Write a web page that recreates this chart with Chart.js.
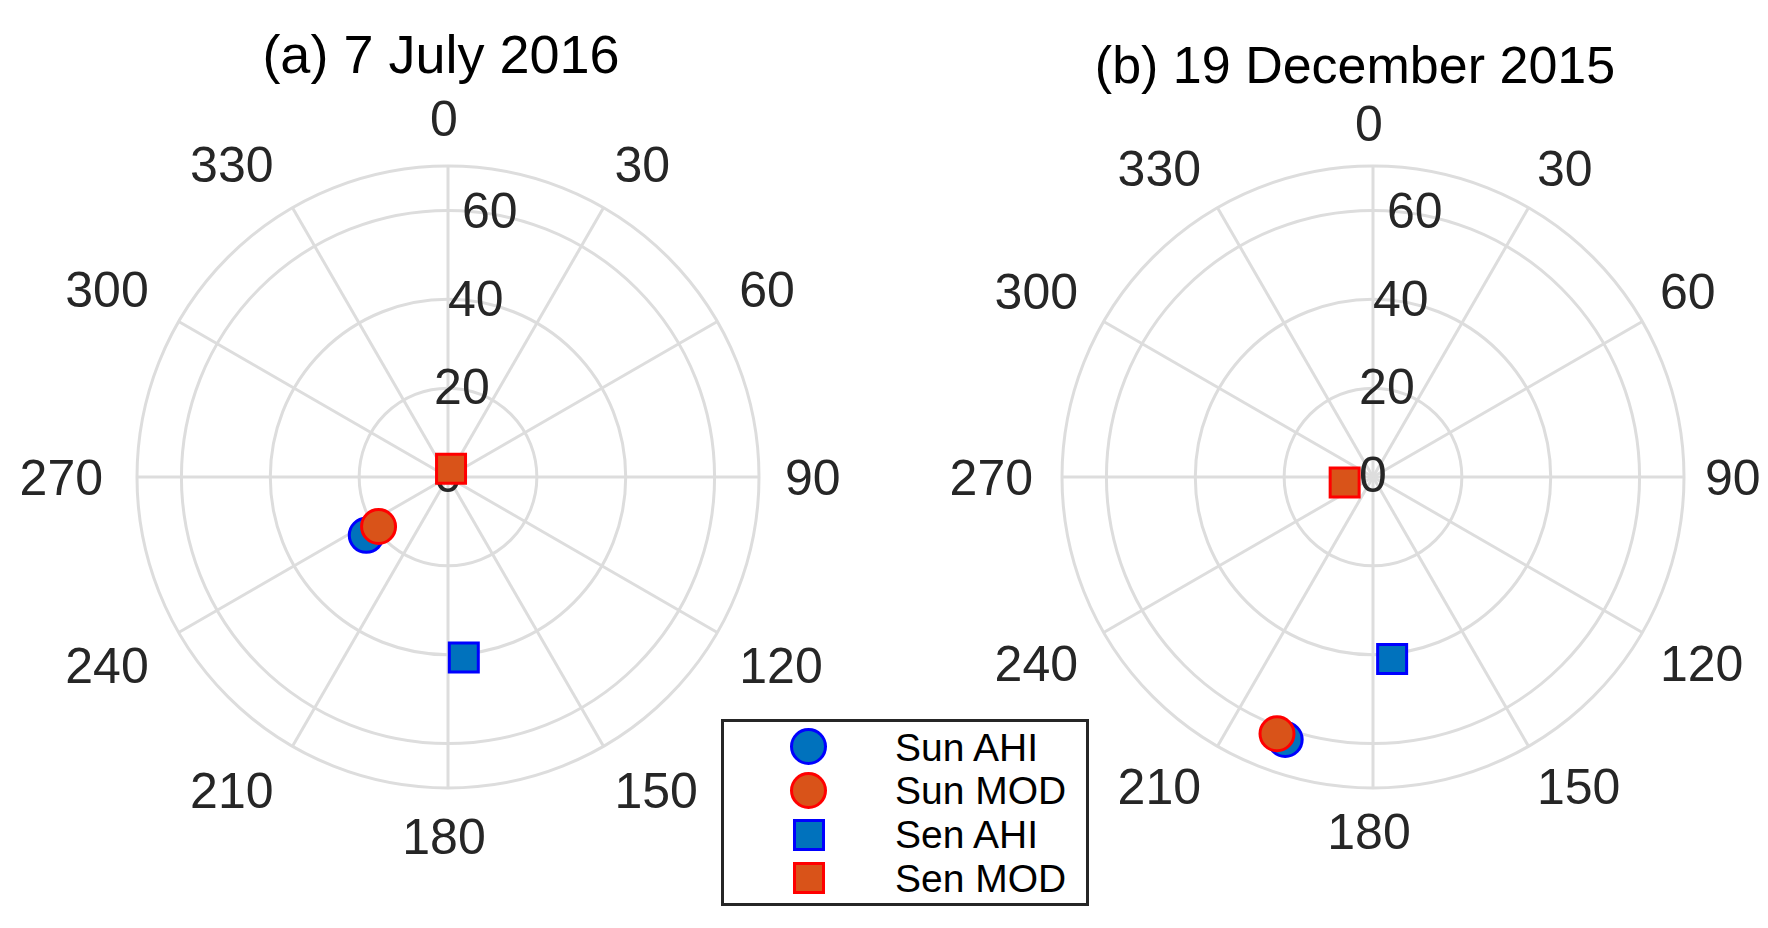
<!DOCTYPE html>
<html>
<head>
<meta charset="utf-8">
<title>Sun and sensor angles</title>
<script src="https://cdn.jsdelivr.net/npm/chart.js@4.4.1/dist/chart.umd.min.js"></script>
<style>
    html, body { margin: 0; padding: 0; background: #fff; overflow: hidden; }
    body { position: relative; width: 1768px; height: 928px; font-family: "Liberation Sans", Arial, sans-serif; }
    canvas { position: absolute; top: 0; }
    .title { position: absolute; width: 700px; text-align: center; line-height: 1; color: #000; white-space: nowrap; }
    #legend { position: absolute; left: 721px; top: 719px; width: 368px; height: 187px; box-sizing: border-box; border: 3px solid #262626; background: #fff; }
    #legend .mark { position: absolute; box-sizing: border-box; border: 3px solid; }
    #legend .txt { position: absolute; font-size: 39px; line-height: 1; color: #000; white-space: nowrap; }
</style>
</head>
<body>
<div class="title" id="titleA" style="left: 91px; top: 27px; font-size: 54px;"></div>
<div class="title" id="titleB" style="left: 1005px; top: 39px; font-size: 52px;"></div>
<canvas id="polarA" width="884" height="928" style="left: 0px;"></canvas>
<canvas id="polarB" width="884" height="928" style="left: 884px;"></canvas>
<div id="legend"></div>

<script>
// Data ----- START
const panelTitles = ['(a) 7 July 2016', '(b) 19 December 2015'];
const seriesNames = ['Sun AHI', 'Sun MOD', 'Sen AHI', 'Sen MOD'];

// azimuth in degrees (clockwise from the top), zenith angle as the radius. index 0 = panel (a), 1 = panel (b)
const sunAhiAzimuth = [234.5, 198.5];
const sunAhiZenith = [22.6, 62.3];
const sunModAzimuth = [234.5, 200.5];
const sunModZenith = [19.2, 61.7];
const senAhiAzimuth = [175, 174];
const senAhiZenith = [40.8, 41.2];
const senModAzimuth = [20, 259];
const senModZenith = [2.0, 6.5];

const thetaTicks = [0, 30, 60, 90, 120, 150, 180, 210, 240, 270, 300, 330];
const rTicks = [0, 20, 40, 60];
const rMax = 70;
// Data ----- END

// Look of the markers (MATLAB default colours)
const fillBlue = '#0072BD';
const fillRed = '#D95319';
const seriesFill = [fillBlue, fillRed, fillBlue, fillRed];
const seriesEdge = ['#0000FF', '#FF0000', '#0000FF', '#FF0000'];
const seriesShape = ['circle', 'circle', 'rect', 'rect'];
const seriesRadius = [17, 17, 20.5, 20.5];
const gridColor = '#dddddd';
const labelColor = '#262626';
const labelSize = 50;

// The radar scale gets one label every half degree so points can sit at any azimuth
const stepsPerDeg = 2;
const angleSlots = Array.from({ length: 360 * stepsPerDeg }, (_, i) => String(i / stepsPerDeg));

function polarSeries(azimuth, zenith) {
    const out = angleSlots.map(() => null);
    out[Math.round(azimuth * stepsPerDeg) % angleSlots.length] = zenith;
    return out;
}

//Draws the r tick labels (a little clockwise of the top, like MATLAB) and the theta tick labels around the rim
const polarLabels = {
    id: 'polarLabels',
    beforeDatasetsDraw(chart, args, opts) {
        const scale = chart.scales.r;
        const ctx = chart.ctx;
        ctx.save();
        ctx.fillStyle = labelColor;
        ctx.font = labelSize + 'px "Liberation Sans", Arial, sans-serif';

        ctx.textAlign = 'center';
        ctx.textBaseline = 'middle';
        rTicks.forEach(v => {
            const p = scale.getPointPositionForValue(9 * stepsPerDeg, v);
            ctx.fillText(String(v), p.x, p.y + 1);
        });

        const capHeight = labelSize * 0.716;
        ctx.textBaseline = 'alphabetic';
        thetaTicks.forEach(deg => {
            const p = scale.getPointPosition(deg * stepsPerDeg, scale.drawingArea + opts.gap);
            const x = p.x + opts.shiftX;
            let bottom;
            if (deg === 0 || deg === 180) ctx.textAlign = 'center';
            else if (deg < 180) ctx.textAlign = 'left';
            else ctx.textAlign = 'right';
            if (deg === 90 || deg === 270) bottom = p.y + capHeight / 2;
            else if (deg < 90 || deg > 270) bottom = p.y;
            else bottom = p.y + capHeight;
            ctx.fillText(String(deg), x, bottom);
        });
        ctx.restore();
    }
};

function makePolar(canvasId, panel, padding, gap) {
    const azimuths = [sunAhiAzimuth, sunModAzimuth, senAhiAzimuth, senModAzimuth];
    const zeniths = [sunAhiZenith, sunModZenith, senAhiZenith, senModZenith];
    const datasets = seriesNames.map((name, i) => ({
        label: name,
        data: polarSeries(azimuths[i][panel], zeniths[i][panel]),
        showLine: false,
        pointStyle: seriesShape[i],
        pointRadius: seriesRadius[i],
        pointBorderWidth: 3,
        pointBackgroundColor: seriesFill[i],
        pointBorderColor: seriesEdge[i],
        order: 4 - i // MOD markers sit on top of the AHI ones
    }));

    return new Chart(document.getElementById(canvasId), {
        type: 'radar',
        data: { labels: angleSlots, datasets: datasets },
        options: {
            responsive: false,
            animation: false,
            events: [],
            layout: { padding: padding },
            plugins: {
                legend: { display: false },
                tooltip: { enabled: false },
                polarLabels: { gap: gap, shiftX: -4 }
            },
            scales: {
                r: {
                    min: 0,
                    max: rMax,
                    startAngle: 0,
                    afterBuildTicks: (scale) => {
                        scale.ticks = rTicks.concat([rMax]).map(v => ({ value: v }));
                    },
                    ticks: { display: false },
                    pointLabels: { display: false },
                    grid: { circular: true, color: gridColor, lineWidth: 3 },
                    angleLines: {
                        color: gridColor,
                        lineWidth: (ctx) => (ctx.index % (30 * stepsPerDeg) === 0 ? 3 : 0)
                    }
                }
            }
        },
        plugins: [polarLabels]
    });
}

// chart area is a 622 px square, so the outer circle has a radius of 311 px
makePolar('polarA', 0, { left: 137, right: 125, top: 166, bottom: 140 }, 30);
makePolar('polarB', 1, { left: 178, right: 84, top: 166, bottom: 140 }, 25);

document.getElementById('titleA').textContent = panelTitles[0];
document.getElementById('titleB').textContent = panelTitles[1];

// Legend box shared by both panels
const legend = document.getElementById('legend');
const rowY = [24.7, 68.5, 112.5, 156.3];
seriesNames.forEach((name, i) => {
    const size = seriesShape[i] === 'circle' ? 37 : 32;
    const mark = document.createElement('div');
    mark.className = 'mark';
    mark.style.width = size + 'px';
    mark.style.height = size + 'px';
    mark.style.left = (84.7 - size / 2) + 'px';
    mark.style.top = (rowY[i] - size / 2) + 'px';
    mark.style.background = seriesFill[i];
    mark.style.borderColor = seriesEdge[i];
    if (seriesShape[i] === 'circle') mark.style.borderRadius = '50%';
    legend.appendChild(mark);

    const txt = document.createElement('div');
    txt.className = 'txt';
    txt.style.left = '171px';
    txt.style.top = (rowY[i] - 19.05) + 'px';
    txt.textContent = name;
    legend.appendChild(txt);
});
</script>
</body>
</html>
